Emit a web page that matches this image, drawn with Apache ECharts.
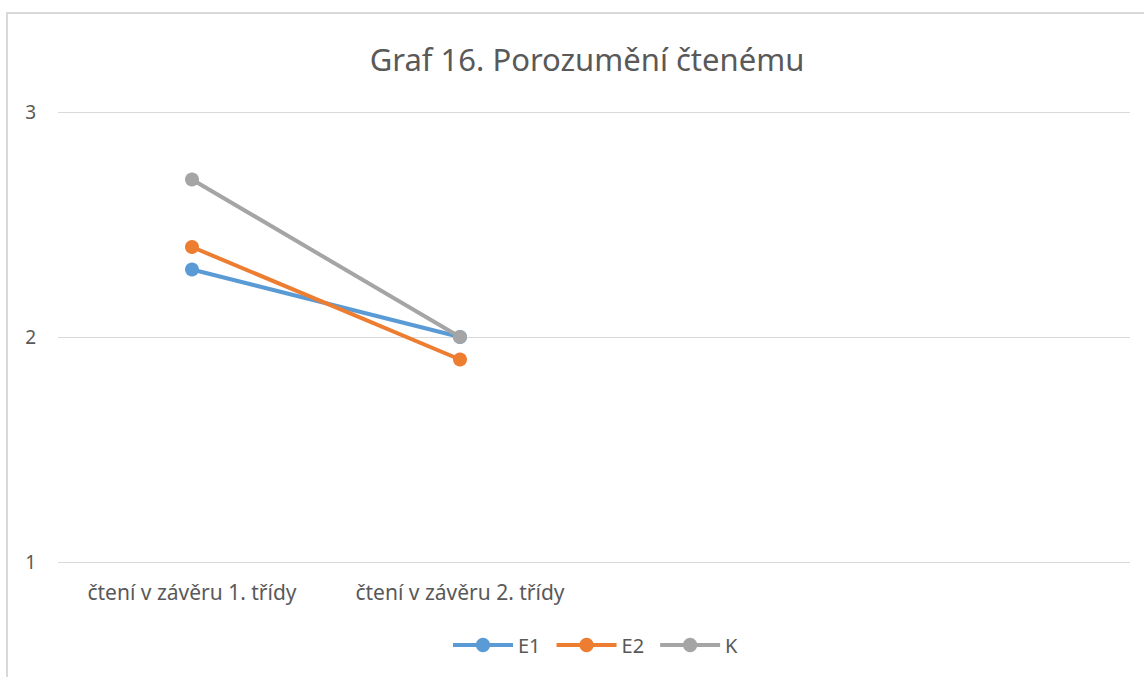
<!DOCTYPE html>
<html>
<head>
<meta charset="utf-8">
<script src="https://cdn.jsdelivr.net/npm/echarts@6/dist/echarts.min.js"></script>
<style>
  html, body { margin: 0; padding: 0; background: #fff; overflow: hidden; }
  #frame { position: absolute; left: 6px; top: 12px; width: 1200px; height: 700px; border: 2px solid #d9d9d9; box-sizing: border-box; }
  #chart { position: absolute; left: 0; top: 0; width: 1144px; height: 677px; }
</style>
</head>
<body>
<div id="frame"></div>
<div id="chart"></div>
<script>
const categories = ['čtení v závěru 1. třídy', 'čtení v závěru 2. třídy', '', ''];
const seriesNames = ['E1', 'E2', 'K'];
const e1Values = [2.3, 2.0];
const e2Values = [2.4, 1.9];
const kValues = [2.7, 2.0];
const colors = ['#5b9bd5', '#ed7d31', '#a5a5a5'];

const chart = echarts.init(document.getElementById('chart'), null, { renderer: 'svg' });

const mkSeries = (name, data, color) => ({
  name, type: 'line', data,
  symbol: 'circle', symbolSize: 14,
  lineStyle: { color, width: 4 },
  itemStyle: { color },
  z: 3
});

chart.setOption({
  animation: false,
  backgroundColor: 'transparent',
  title: {
    text: 'Graf 16. Porozumění čtenému',
    left: 582, top: 38, textAlign: 'center',
    textStyle: { color: '#595959', fontSize: 31, fontWeight: 'normal', fontFamily: 'Noto Sans' }
  },
  legend: {
    data: seriesNames,
    left: 446, top: 630,
    itemWidth: 60, itemHeight: 18, itemGap: 14,
    lineStyle: { width: 4 },
    textStyle: { color: '#595959', fontSize: 20, fontFamily: 'Noto Sans' }
  },
  grid: { left: 58, right: 14, top: 112, bottom: 115 },
  xAxis: {
    type: 'category',
    data: categories,
    boundaryGap: true,
    axisLine: { show: false },
    axisTick: { show: false },
    axisLabel: { color: '#595959', fontSize: 21, fontFamily: 'Noto Sans', margin: 19, interval: 0 }
  },
  yAxis: {
    type: 'value',
    min: 1, max: 3, interval: 1,
    axisLine: { show: false },
    axisTick: { show: false },
    splitLine: { lineStyle: { color: '#d9d9d9', width: 1 } },
    axisLabel: { color: '#595959', fontSize: 19, fontFamily: 'Noto Sans', margin: 22 }
  },
  series: [
    mkSeries('E1', e1Values, colors[0]),
    mkSeries('E2', e2Values, colors[1]),
    mkSeries('K', kValues, colors[2])
  ]
});
</script>
</body>
</html>
